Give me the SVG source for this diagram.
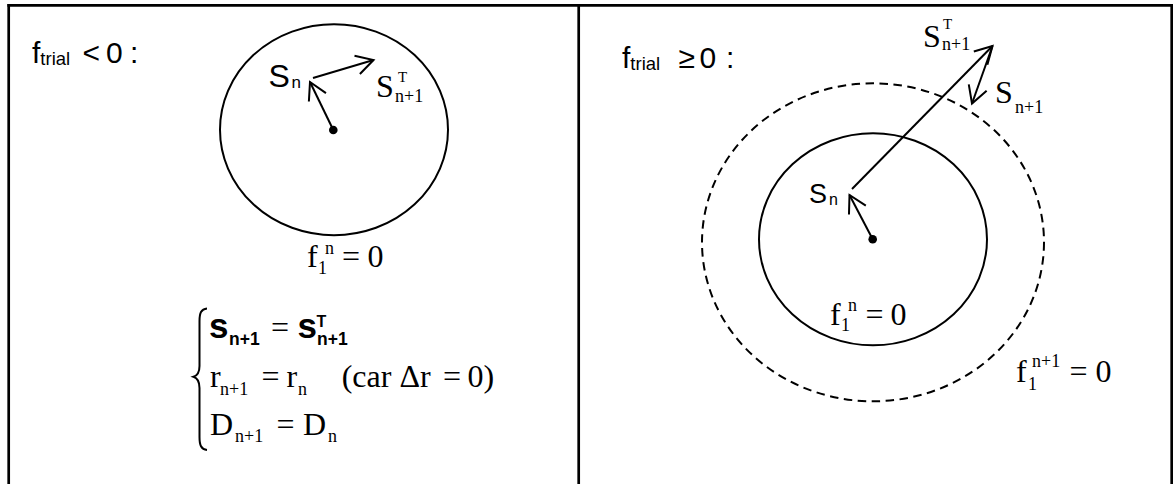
<svg xmlns="http://www.w3.org/2000/svg" width="1173" height="484" viewBox="0 0 1173 484">
<style>
.frame{stroke:#000;stroke-width:2.7;fill:none}
.curve{stroke:#000;stroke-width:2;fill:none}
.dash{stroke:#000;stroke-width:2;fill:none;stroke-dasharray:8.5 5.5}
.arr{stroke:#000;stroke-width:2;fill:none;marker-end:url(#ah)}
.sans{font-family:"Liberation Sans",Arial,sans-serif;fill:#000}
.serif{font-family:"Liberation Serif","Times New Roman",serif;fill:#000}
.big{font-size:32px}
.small{font-size:18px}
.sup{font-size:15px}
.bold{font-weight:bold}
</style>
<defs>
<marker id="ah" markerUnits="userSpaceOnUse" orient="auto" overflow="visible" refX="0" refY="0" markerWidth="20" markerHeight="20">
<path d="M-17,-9.5 L0,0 L-17,9.5" fill="none" stroke="#000" stroke-width="2"/>
</marker>
</defs>
<rect width="1173" height="484" fill="#fff"/>
<g id="frame">
<line class="frame" x1="7.4" y1="5.3" x2="1173" y2="5.3"/>
<line class="frame" x1="8.7" y1="4" x2="8.7" y2="484"/>
<line class="frame" x1="578.7" y1="4" x2="578.7" y2="484"/>
<line class="frame" x1="1171.7" y1="4" x2="1171.7" y2="484"/>
</g>
<g id="left-title">
<text class="sans" x="32" y="63.3" font-size="30">f<tspan font-size="18.5" dy="1.5">trial</tspan></text>
<text class="sans" y="63.3" font-size="30"><tspan x="82.5">&lt;</tspan><tspan x="106">0</tspan><tspan x="130">:</tspan></text>
</g>
<g id="left-surface">
<ellipse class="curve" cx="334" cy="129.7" rx="114" ry="105.5"/>
<circle cx="333.3" cy="130" r="4.3" fill="#000"/>
</g>
<g id="left-Sn">
<text class="sans" x="268.5" y="87" font-size="32">S<tspan font-size="17" x="291.5" dy="1.4">n</tspan></text>
</g>
<g id="left-STn1">
<text class="serif big" x="376" y="96.7">S</text>
<text class="serif sup" x="398" y="82">T</text>
<text class="serif small" x="395" y="102">n+1</text>
</g>
<g id="left-f1n">
<text class="serif big" x="307" y="267">f</text>
<text class="serif small" x="318" y="273.5">1</text>
<text class="serif small" x="325" y="253.5">n</text>
<text class="serif big" x="342" y="267">=</text>
<text class="serif big" x="367.5" y="267">0</text>
</g>
<g id="left-system">
<path class="curve" stroke-width="1.4" d="M207,308.5 C201,309 199.5,313 199.5,321 L199.5,366 C199.5,372.5 197.5,375.5 193.5,376.8 C197.5,378.2 199.5,381.5 199.5,388 L199.5,437 C199.5,445 201,449.5 207,450"/>
<text class="sans bold" x="209" y="338" font-size="35">s</text>
<text class="sans bold" x="229" y="345" font-size="17.5">n+1</text>
<text class="serif big" x="271" y="338">=</text>
<text class="sans bold" x="297.5" y="338" font-size="35">s</text>
<text class="sans bold" x="316.5" y="327" font-size="16">T</text>
<text class="sans bold" x="317" y="345" font-size="17.5">n+1</text>
<text class="serif big" x="210" y="386.7">r</text>
<text class="serif small" x="220" y="395">n+1</text>
<text class="serif big" x="261.5" y="386.7">=</text>
<text class="serif big" x="286.5" y="386.7">r</text>
<text class="serif small" x="298" y="395">n</text>
<text class="serif big" y="386.7"><tspan x="341.7">(car</tspan><tspan x="399.5">Δr</tspan><tspan x="443">=</tspan><tspan x="467.5">0)</tspan></text>
<text class="serif big" x="210" y="435">D</text>
<text class="serif small" x="235" y="442.3">n+1</text>
<text class="serif big" x="276.5" y="435">=</text>
<text class="serif big" x="303" y="435">D</text>
<text class="serif small" x="328" y="442.3">n</text>
</g>
<g id="right-title">
<text class="sans" x="622" y="68.3" font-size="30">f<tspan font-size="18.5" dy="2">trial</tspan></text>
<text class="sans" y="68.3" font-size="30"><tspan x="678.5">≥</tspan><tspan x="699.5">0</tspan><tspan x="726">:</tspan></text>
</g>
<g id="right-surface-n">
<ellipse class="curve" cx="873" cy="239.3" rx="114" ry="106"/>
<circle cx="872.7" cy="239.3" r="4.3" fill="#000"/>
</g>
<g id="right-surface-n1">
<ellipse class="dash" cx="873" cy="242.3" rx="171" ry="159"/>
</g>
<g id="right-Sn">
<text class="sans" x="809" y="202.5" font-size="27">S<tspan font-size="16" x="829" dy="2">n</tspan></text>
</g>
<g id="right-STn1">
<text class="serif big" x="923" y="46.7">S</text>
<text class="serif sup" x="943" y="28.5">T</text>
<text class="serif small" x="942" y="50">n+1</text>
</g>
<g id="right-Sn1">
<text class="serif big" x="995" y="103">S</text>
<text class="serif small" x="1015" y="112.7">n+1</text>
</g>
<g id="right-f1n">
<text class="serif big" x="830" y="324.5">f</text>
<text class="serif small" x="841" y="331">1</text>
<text class="serif small" x="848" y="311">n</text>
<text class="serif big" x="865.5" y="324.5">=</text>
<text class="serif big" x="890.5" y="324.5">0</text>
</g>
<g id="right-f1n1">
<text class="serif big" x="1016" y="381.7">f</text>
<text class="serif small" x="1028" y="390">1</text>
<text class="serif small" x="1032" y="366.7">n+1</text>
<text class="serif big" x="1069.5" y="381.7">=</text>
<text class="serif big" x="1095.5" y="381.7">0</text>
</g>
<g id="connectors">
<line class="arr" x1="333.3" y1="130" x2="310" y2="82"/>
<line class="arr" x1="313" y1="78" x2="373.5" y2="60"/>
<line class="arr" x1="872.7" y1="239.3" x2="849.5" y2="195"/>
<line class="arr" x1="852" y1="189" x2="992.5" y2="46"/>
<line class="arr" x1="992.5" y1="46" x2="972" y2="103.5"/>
</g>
</svg>
